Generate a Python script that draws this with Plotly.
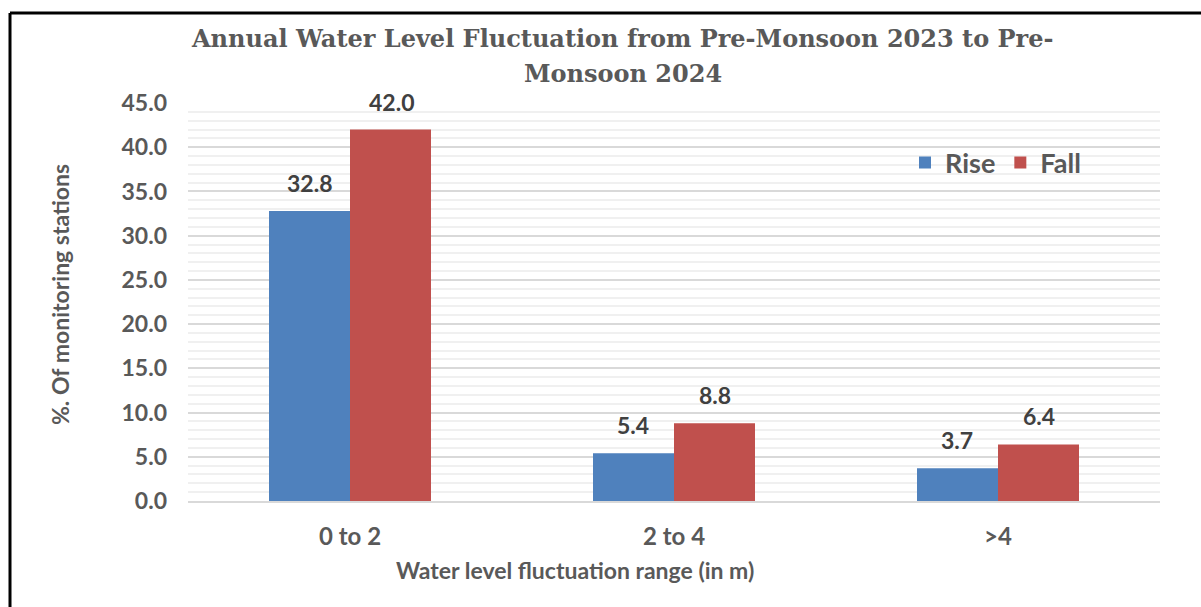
import plotly.graph_objects as go

# chart data
categories = ["0 to 2", "2 to 4", ">4"]
rise = [32.8, 5.4, 3.7]
fall = [42.0, 8.8, 6.4]
y_ticks = [0, 5, 10, 15, 20, 25, 30, 35, 40, 45]

W, H = 1201, 607
L, R, T, B = 188, 41, 103, 106
pw, ph = W - L - R, H - T - B

def px(x):  # pixel x -> paper
    return (x - L) / pw

def py(y):  # pixel y -> paper
    return (H - B - y) / ph

body = "Lato"
grey = "#595959"
dark = "#404040"

fig = go.Figure()
fig.add_trace(go.Bar(x=categories, y=rise, name="Rise", marker=dict(color="#4F81BD", line=dict(width=0))))
fig.add_trace(go.Bar(x=categories, y=fall, name="Fall", marker=dict(color="#C0504D", line=dict(width=0))))

# data labels above the bars
for vals, shift in ((rise, -41), (fall, 41)):
    for c, v in zip(categories, vals):
        fig.add_annotation(x=c, y=v, text=f"<b>{v:.1f}</b>", showarrow=False, xshift=shift, yshift=28,
                           xanchor="center", yanchor="middle",
                           font=dict(family=body, size=23, color=dark))

# title (two lines placed separately)
title_font = dict(family="DejaVu Serif", size=24, color=grey, weight="bold")
fig.add_annotation(xref="paper", yref="paper", x=px(622), y=py(38), xanchor="center", yanchor="middle",
                   text="Annual Water Level Fluctuation from Pre-Monsoon 2023 to Pre-",
                   showarrow=False, font=title_font)
fig.add_annotation(xref="paper", yref="paper", x=px(623), y=py(73), xanchor="center", yanchor="middle",
                   text="Monsoon 2024", showarrow=False, font=title_font)
# axis titles
fig.add_annotation(xref="paper", yref="paper", x=px(575), y=py(570), xanchor="center", yanchor="middle",
                   text="<b>Water level fluctuation range (in m)</b>", showarrow=False,
                   font=dict(family=body, size=23, color=grey))
fig.add_annotation(xref="paper", yref="paper", x=px(60), y=py(295), xanchor="center", yanchor="middle",
                   textangle=-90, text="<b>%. Of monitoring stations</b>", showarrow=False,
                   font=dict(family=body, size=23, color=grey))

# outer frame (top and left edges visible)
fig.add_shape(type="line", xref="paper", yref="paper", x0=px(10), x1=px(1210), y0=py(13), y1=py(13),
              line=dict(color="black", width=3))
fig.add_shape(type="line", xref="paper", yref="paper", x0=px(10), x1=px(10), y0=py(13), y1=py(620),
              line=dict(color="black", width=3))

fig.update_layout(
    width=W, height=H,
    margin=dict(l=L, r=R, t=T, b=B),
    paper_bgcolor="white", plot_bgcolor="white",
    barmode="group", bargap=0.5, bargroupgap=0,
    showlegend=True,
    legend=dict(orientation="h", x=px(905), y=py(163), xanchor="left", yanchor="middle",
                font=dict(family=body, size=27, color=grey, weight="bold"), bgcolor="rgba(0,0,0,0)",
                itemwidth=30, traceorder="normal"),
    font=dict(family=body, color=grey),
)
fig.update_xaxes(showgrid=False, showline=True, linecolor="#d9d9d9", linewidth=2,
                 tickfont=dict(family=body, size=24, color=grey, weight="bold"), ticklabelstandoff=13)
fig.update_yaxes(range=[0, 45], tickvals=y_ticks, tickformat=".1f",
                 showgrid=True, gridcolor="#d9d9d9", gridwidth=2, zeroline=False,
                 minor=dict(dtick=1, showgrid=True, gridcolor="#f0f0f0", gridwidth=2),
                 tickfont=dict(family=body, size=23, color=grey, weight="bold"), ticklabelstandoff=20)

fig.write_html("out.html", config={"displayModeBar": False},
               post_script="document.body.style.margin='0';")
